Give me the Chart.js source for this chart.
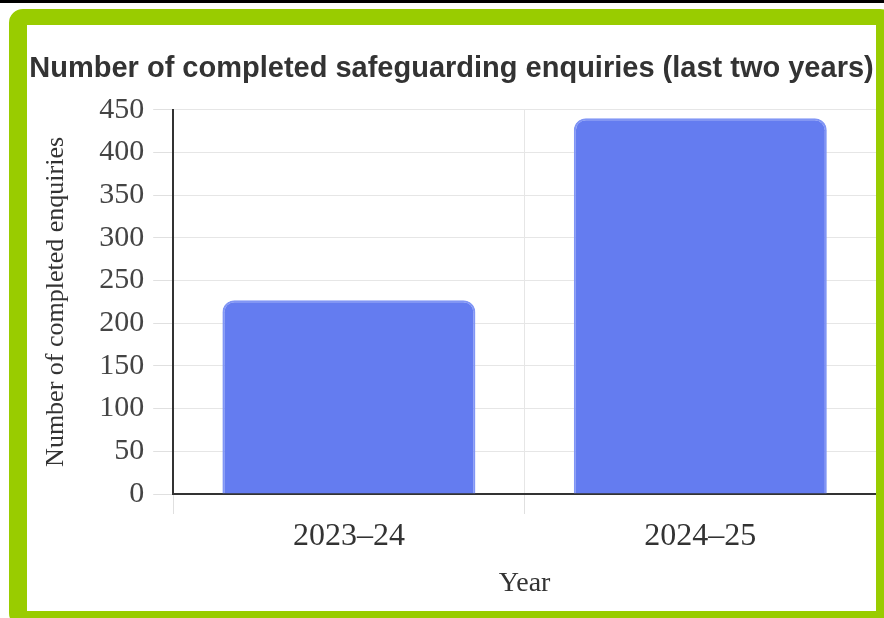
<!DOCTYPE html>
<html>
<head>
<meta charset="utf-8">
<script src="https://cdn.jsdelivr.net/npm/chart.js@4.4.1/dist/chart.umd.min.js"></script>
<style>
    html, body { margin: 0; padding: 0; background: #fff; overflow: hidden; }
    body { width: 884px; height: 618px; position: relative; }
    .topline { position: absolute; left: 0; top: 0; width: 884px; height: 3px; background: #000; }
    .card {
        position: absolute; left: 9px; top: 9px;
        width: 849px; height: 586px;
        border-style: solid; border-color: #99cc00;
        border-width: 16px 18px 16px 18px;
        border-radius: 14px;
        background: #fff;
    }
    .chart-box { position: relative; width: 849px; height: 586px; }
</style>
</head>
<body>
<div class="topline"></div>
<div class="card">
    <div class="chart-box"><canvas id="myChart"></canvas></div>
</div>
<script>
var years = ['2023\u201324', '2024\u201325'];
var enquiries = [227, 440];
var chartTitle = 'Number of completed safeguarding enquiries (last two years)';
var yTitle = 'Number of completed enquiries';
var xTitle = 'Year';

var serif = "'Liberation Serif', 'Times New Roman', serif";

function createChart() {
    var ctx = document.getElementById('myChart');

    window.myBar = new Chart(ctx, {
        type: 'bar',
        data: {
            labels: years,
            datasets: [{
                label: 'Completed enquiries',
                data: enquiries,
                backgroundColor: '#647cf0',
                borderColor: '#8196f5',
                borderWidth: 2,
                borderRadius: 12
            }]
        },
        options: {
            responsive: true,
            maintainAspectRatio: false,
            animation: false,
            layout: { padding: { left: 0, right: 0, top: 0, bottom: 11 } },
            plugins: {
                legend: { display: false },
                tooltip: { enabled: false },
                title: {
                    display: true,
                    text: chartTitle,
                    color: '#333',
                    font: { family: "'Liberation Sans', Arial, sans-serif", size: 29, weight: 'bold' },
                    padding: { top: 27, bottom: 23 }
                }
            },
            scales: {
                y: {
                    min: 0,
                    max: 450,
                    ticks: {
                        stepSize: 50,
                        color: '#444',
                        padding: 9,
                        font: { family: serif, size: 30 }
                    },
                    grid: { color: '#e6e6e6', tickColor: '#e0e0e0', tickLength: 20 },
                    border: { color: '#333', width: 2 },
                    title: {
                        display: true,
                        text: yTitle,
                        color: '#333',
                        font: { family: serif, size: 26 },
                        padding: { top: 14, bottom: 18 }
                    }
                },
                x: {
                    ticks: {
                        color: '#333',
                        padding: 3,
                        font: { family: serif, size: 32 }
                    },
                    grid: { color: '#e6e6e6', tickColor: '#e0e0e0', tickLength: 20, offset: true },
                    border: { color: '#333', width: 2 },
                    title: {
                        display: true,
                        text: xTitle,
                        color: '#333',
                        font: { family: serif, size: 28 },
                        padding: { top: 8, bottom: 0 }
                    }
                }
            }
        }
    });
}

createChart();
</script>
</body>
</html>
